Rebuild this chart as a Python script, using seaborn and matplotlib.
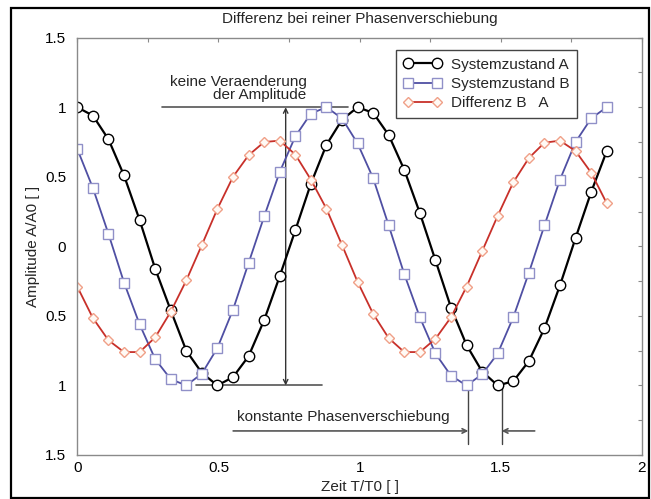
import matplotlib
matplotlib.use("Agg")
import matplotlib.pyplot as plt
import seaborn as sns
from matplotlib.patches import Rectangle
from matplotlib.ticker import MultipleLocator, FixedLocator, FixedFormatter

# Sampling times T/T0
zeit = [0.0, 0.0551, 0.1103, 0.1654, 0.2206, 0.2757, 0.3309, 0.3860, 0.4412, 0.4963,
        0.5515, 0.6066, 0.6618, 0.7169, 0.7721, 0.8272, 0.8824, 0.9375, 0.9926, 1.0478,
        1.1029, 1.1581, 1.2132, 1.2684, 1.3235, 1.3787, 1.4338, 1.4890, 1.5441, 1.5993,
        1.6544, 1.7096, 1.7647, 1.8199, 1.8750]

zustand_a = [1.0, 0.94, 0.77, 0.51, 0.19, -0.16, -0.46, -0.75, -0.91, -1.0,
             -0.94, -0.79, -0.53, -0.215, 0.115, 0.45, 0.73, 0.91, 1.0, 0.96,
             0.80, 0.55, 0.24, -0.10, -0.44, -0.71, -0.90, -1.0, -0.97, -0.825,
             -0.59, -0.28, 0.06, 0.39, 0.684]

zustand_b = [0.70, 0.42, 0.09, -0.26, -0.56, -0.81, -0.955, -1.0, -0.915, -0.73,
             -0.455, -0.12, 0.215, 0.535, 0.79, 0.955, 1.0, 0.92, 0.74, 0.49,
             0.15, -0.20, -0.51, -0.77, -0.93, -1.0, -0.92, -0.77, -0.51, -0.19,
             0.15, 0.48, 0.75, 0.92, 1.0]

differenz = [-0.29, -0.515, -0.675, -0.76, -0.76, -0.655, -0.47, -0.245, 0.01, 0.27,
             0.50, 0.655, 0.75, 0.76, 0.66, 0.48, 0.27, 0.01, -0.255, -0.485,
             -0.66, -0.76, -0.76, -0.665, -0.51, -0.29, -0.035, 0.22, 0.46, 0.635,
             0.745, 0.76, 0.685, 0.53, 0.31]

labels = ["Systemzustand A", "Systemzustand B", "Differenz B   A"]
y_ticks = [-1.5, -1.0, -0.5, 0.0, 0.5, 1.0, 1.5]
y_ticklabels = ["1.5", "1", "0.5", "0", "0.5", "1", "1.5"]
x_ticks = [0, 0.5, 1, 1.5, 2]
x_ticklabels = ["0", "0.5", "1", "1.5", "2"]

sns.set_theme(style="white")
plt.rcParams["font.family"] = ["Liberation Sans", "DejaVu Sans"]
plt.rcParams["font.size"] = 11

W, H = 651, 499
fig = plt.figure(figsize=(W / 100, H / 100), dpi=100)
fig.patch.set_facecolor("white")
ax = fig.add_axes([77.3 / W, (H - 455) / H, (642 - 77.3) / W, (455 - 37.7) / H])

sns.lineplot(x=zeit, y=zustand_a, ax=ax, color="black", linewidth=1.6,
             marker="o", markersize=7.5, mfc="white", mec="black", mew=1.0,
             label=labels[0], sort=False, errorbar=None)
sns.lineplot(x=zeit, y=zustand_b, ax=ax, color="#4f4fa3", linewidth=1.3,
             marker="s", markersize=6.5, mfc="white", mec="#9090c8", mew=1.0,
             label=labels[1], sort=False, errorbar=None)
sns.lineplot(x=zeit, y=differenz, ax=ax, color="#c8302a", linewidth=1.3,
             marker="D", markersize=5.5, mfc="#fffaf5", mec="#f0a088", mew=1.0,
             label=labels[2], sort=False, errorbar=None)

ax.set_xlim(0, 2)
ax.set_ylim(-1.5, 1.5)
ax.xaxis.set_major_locator(FixedLocator(x_ticks))
ax.xaxis.set_major_formatter(FixedFormatter(x_ticklabels))
ax.xaxis.set_minor_locator(MultipleLocator(0.25))
ax.yaxis.set_major_locator(FixedLocator(y_ticks))
ax.yaxis.set_major_formatter(FixedFormatter(y_ticklabels))
ax.yaxis.set_minor_locator(MultipleLocator(0.25))

spine_col = "#8a8a8a"
for s in ax.spines.values():
    s.set_color(spine_col)
    s.set_linewidth(1.0)
ax.tick_params(which="both", direction="in", top=True, right=True,
               length=3, width=0.8, color=spine_col, labelsize=11,
               labelcolor="black")
ax.tick_params(axis="y", pad=8)
ax.tick_params(axis="x", pad=4)

ax.set_xlabel("Zeit T/T0 [ ]", fontsize=11)
ax.set_ylabel("Amplitude A/A0 [ ]", fontsize=11)
ax.xaxis.set_label_coords(0.5, (455 - 487) / (455 - 37.7))
ax.xaxis.label.set_va("center")
ax.yaxis.set_label_coords((33 - 77.3) / (642 - 77.3), 0.5)
ax.yaxis.label.set_va("center")
ax.text(0.5, (455 - 19) / (455 - 37.7), "Differenz bei reiner Phasenverschiebung",
        transform=ax.transAxes, ha="center", va="center", fontsize=11)

# Amplitude annotation
line_kw = dict(color="#555555", linewidth=1.2, zorder=1)
ax.plot([0.30, 0.96], [1.0, 1.0], **line_kw)
ax.plot([0.42, 0.865], [-1.0, -1.0], **line_kw)
ax.annotate("", xy=(0.738, 1.0), xytext=(0.738, -1.0),
            arrowprops=dict(arrowstyle="<->", color="#333333", lw=1.0,
                            shrinkA=0, shrinkB=0, mutation_scale=8), zorder=1)
ax.text(0.812, 1.135, "keine Veraenderung\nder Amplitude", ha="right", va="center",
        fontsize=11, linespacing=0.92)

# Phase shift annotation
x_b, x_a = 1.385, 1.503
y_h = -1.327
ax.plot([x_b, x_b], [-1.02, -1.42], color="#444444", linewidth=1.0, zorder=1)
ax.plot([x_a, x_a], [-1.02, -1.42], color="#444444", linewidth=1.0, zorder=1)
ax.annotate("", xy=(x_b, y_h), xytext=(0.552, y_h),
            arrowprops=dict(arrowstyle="->", color="#555555", lw=1.2,
                            shrinkA=0, shrinkB=0, mutation_scale=8))
ax.annotate("", xy=(x_a, y_h), xytext=(1.62, y_h),
            arrowprops=dict(arrowstyle="->", color="#555555", lw=1.2,
                            shrinkA=0, shrinkB=0, mutation_scale=8))
ax.text(1.32, -1.257, "konstante Phasenverschiebung", ha="right", va="baseline",
        fontsize=11)

# Legend
leg = ax.legend(loc="upper left", bbox_to_anchor=((396 - 77.3) / (642 - 77.3),
                                                  (455 - 50) / (455 - 37.7)),
                numpoints=2, handlelength=2.5, handletextpad=0.6,
                borderpad=0.5, labelspacing=0.35, borderaxespad=0,
                fancybox=False, framealpha=1, fontsize=11)
leg.get_frame().set_edgecolor("#444444")
leg.get_frame().set_linewidth(1.0)

# Outer frame of the figure
fig.add_artist(Rectangle((10.7 / W, 1 / H), (649 - 10.7) / W, (490.5) / H,
                         transform=fig.transFigure, fill=False,
                         edgecolor="black", linewidth=1.6))

fig.savefig("out.png", dpi=100, facecolor="white")
